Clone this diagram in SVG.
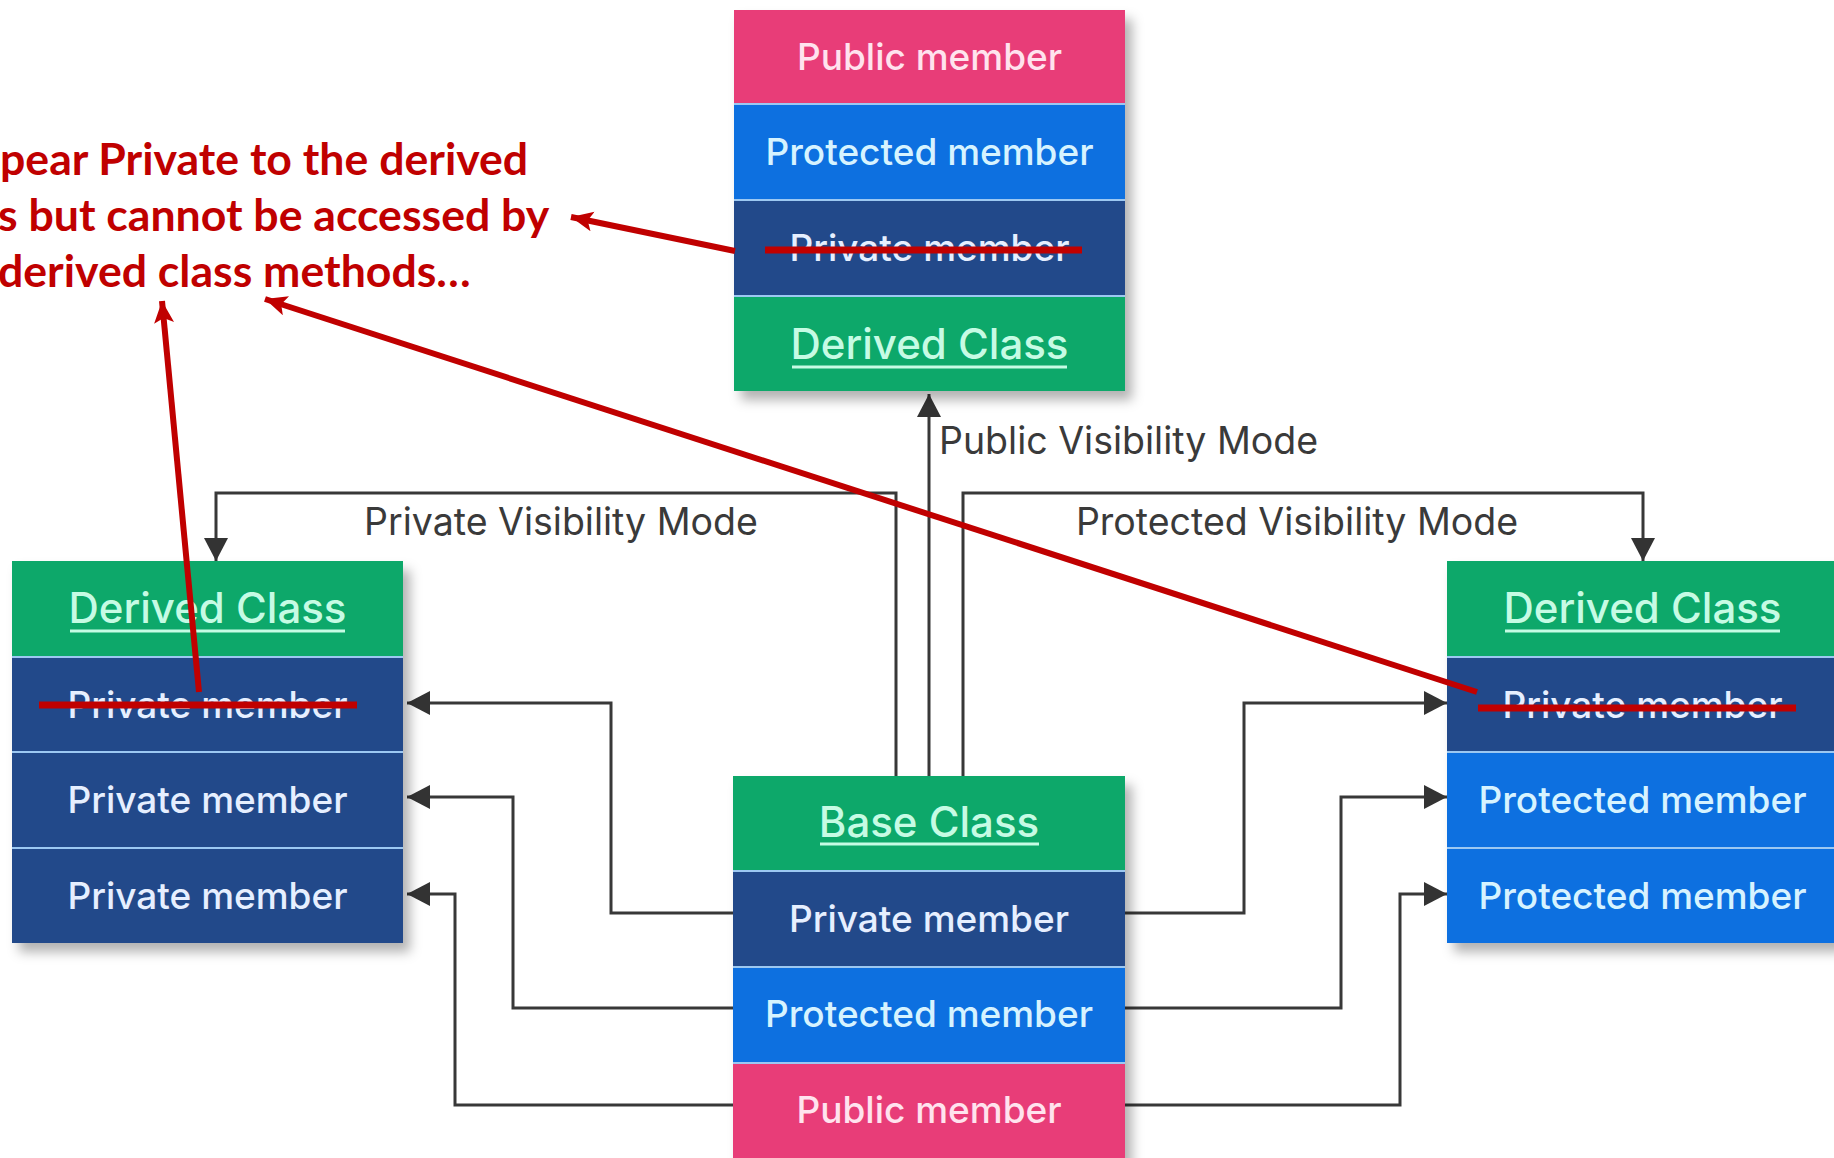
<svg xmlns="http://www.w3.org/2000/svg" width="1834" height="1158" viewBox="0 0 1834 1158">
  <defs>
    <filter id="shadow" x="-10%" y="-10%" width="125%" height="125%">
      <feDropShadow dx="7" dy="9" stdDeviation="6" flood-color="#000" flood-opacity="0.3"/>
    </filter>
    <marker id="head" markerUnits="userSpaceOnUse" markerWidth="24" markerHeight="26" refX="23" refY="12" orient="auto">
      <path d="M0,0 L23,12 L0,24 z" fill="#333"/>
    </marker>
    <marker id="redhead" markerUnits="userSpaceOnUse" markerWidth="24" markerHeight="22" refX="22" refY="10" orient="auto">
      <path d="M0,0 L22,10 L0,20 L5,10 z" fill="#c00000"/>
    </marker>
    <style>
      .green { fill: #0aa86b; }
      .navy { fill: #224a8a; }
      .blue { fill: #0b6fe0; }
      .pink { fill: #e83d78; }
      .sep { stroke: #9cc8f2; stroke-width: 2; }
      .txt { font-family: Inter, "Noto Sans", "DejaVu Sans", sans-serif; font-size: 37px; font-weight: 500; text-anchor: middle; }
      .title { font-size: 42px; }
      .t-green { fill: #c6fbe4; }
      .t-navy { fill: #e6efff; }
      .t-blue { fill: #d6f3ff; }
      .t-pink { fill: #ffe3ee; }
      .uline { stroke: #c6fbe4; stroke-width: 3; }
      .conn { fill: none; stroke: #383838; stroke-width: 3; }
      .mode { font-family: Inter, "Noto Sans", "DejaVu Sans", sans-serif; font-size: 37.5px; fill: #3a3a3a; }
      .strike { stroke: #c00000; stroke-width: 7; }
      .redline { stroke: #c00000; stroke-width: 6; fill: none; }
      .note { font-family: Lato, "Open Sans", "Liberation Sans", sans-serif; font-weight: bold; font-size: 44.6px; fill: #c00000; }
    </style>
  </defs>

  <rect width="1834" height="1158" fill="#ffffff"/>

  <!-- connectors between classes -->
  <g id="connectors">
    <path class="conn" d="M929 776 V394" marker-end="url(#head)"/>
    <path class="conn" d="M896 776 V493 H216 V561" marker-end="url(#head)"/>
    <path class="conn" d="M963 776 V493 H1643 V561" marker-end="url(#head)"/>
    <path class="conn" d="M733 913 H611 V703 H407" marker-end="url(#head)"/>
    <path class="conn" d="M733 1008 H513 V797 H407" marker-end="url(#head)"/>
    <path class="conn" d="M733 1105 H455 V894 H407" marker-end="url(#head)"/>
    <path class="conn" d="M1125 913 H1244 V703 H1447" marker-end="url(#head)"/>
    <path class="conn" d="M1125 1008 H1341 V797 H1447" marker-end="url(#head)"/>
    <path class="conn" d="M1125 1105 H1400 V894 H1447" marker-end="url(#head)"/>
    <text class="mode" x="939" y="454">Public Visibility Mode</text>
    <text class="mode" x="561" y="535" text-anchor="middle">Private Visibility Mode</text>
    <text class="mode" x="1297" y="535" text-anchor="middle">Protected Visibility Mode</text>
  </g>

  <!-- derived class, public inheritance -->
  <g id="derived-public">
    <g filter="url(#shadow)">
      <rect class="pink" x="734" y="10" width="391" height="95"/>
      <rect class="blue" x="734" y="105" width="391" height="95"/>
      <rect class="navy" x="734" y="200" width="391" height="95"/>
      <rect class="green" x="734" y="295" width="391" height="96"/>
    </g>
    <line class="sep" x1="734" y1="104" x2="1125" y2="104"/>
    <line class="sep" x1="734" y1="200" x2="1125" y2="200"/>
    <line class="sep" x1="734" y1="296" x2="1125" y2="296"/>
    <text class="txt t-pink" x="929.5" y="70">Public member</text>
    <text class="txt t-blue" x="929.5" y="165">Protected member</text>
    <text class="txt t-navy" x="929.5" y="261">Private member</text>
    <text class="txt title t-green" x="929.5" y="359">Derived Class</text>
    <line class="uline" x1="792" y1="367" x2="1067" y2="367"/>
  </g>

  <!-- derived class, private inheritance -->
  <g id="derived-private">
    <g filter="url(#shadow)">
      <rect class="green" x="12" y="561" width="391" height="96"/>
      <rect class="navy" x="12" y="657" width="391" height="286"/>
    </g>
    <line class="sep" x1="12" y1="657" x2="403" y2="657"/>
    <line class="sep" x1="12" y1="752" x2="403" y2="752"/>
    <line class="sep" x1="12" y1="848" x2="403" y2="848"/>
    <text class="txt title t-green" x="207.5" y="623">Derived Class</text>
    <line class="uline" x1="70" y1="631" x2="345" y2="631"/>
    <text class="txt t-navy" x="207.5" y="718">Private member</text>
    <text class="txt t-navy" x="207.5" y="813">Private member</text>
    <text class="txt t-navy" x="207.5" y="909">Private member</text>
  </g>

  <!-- derived class, protected inheritance -->
  <g id="derived-protected">
    <g filter="url(#shadow)">
      <rect class="green" x="1447" y="561" width="391" height="96"/>
      <rect class="navy" x="1447" y="657" width="391" height="95"/>
      <rect class="blue" x="1447" y="752" width="391" height="191"/>
    </g>
    <line class="sep" x1="1447" y1="657" x2="1838" y2="657"/>
    <line class="sep" x1="1447" y1="752" x2="1838" y2="752"/>
    <line class="sep" x1="1447" y1="848" x2="1838" y2="848"/>
    <text class="txt title t-green" x="1642.5" y="623">Derived Class</text>
    <line class="uline" x1="1505" y1="631" x2="1780" y2="631"/>
    <text class="txt t-navy" x="1642.5" y="718">Private member</text>
    <text class="txt t-blue" x="1642.5" y="813">Protected member</text>
    <text class="txt t-blue" x="1642.5" y="909">Protected member</text>
  </g>

  <!-- base class -->
  <g id="base-class">
    <g filter="url(#shadow)">
      <rect class="green" x="733" y="776" width="392" height="95"/>
      <rect class="navy" x="733" y="871" width="392" height="96"/>
      <rect class="blue" x="733" y="967" width="392" height="96"/>
      <rect class="pink" x="733" y="1063" width="392" height="100"/>
    </g>
    <line class="sep" x1="733" y1="871" x2="1125" y2="871"/>
    <line class="sep" x1="733" y1="967" x2="1125" y2="967"/>
    <line class="sep" x1="733" y1="1063" x2="1125" y2="1063"/>
    <text class="txt title t-green" x="929" y="837">Base Class</text>
    <line class="uline" x1="820" y1="844" x2="1039" y2="844"/>
    <text class="txt t-navy" x="929" y="932">Private member</text>
    <text class="txt t-blue" x="929" y="1027">Protected member</text>
    <text class="txt t-pink" x="929" y="1123">Public member</text>
  </g>

  <!-- red annotation -->
  <g id="annotation">
    <text class="note" x="0" y="175">pear Private to the derived</text>
    <text class="note" x="-2" y="231">s but cannot be accessed by</text>
    <text class="note" x="-2" y="287">derived class methods…</text>
    <line class="strike" x1="765" y1="250" x2="1082" y2="250"/>
    <line class="strike" x1="39" y1="705" x2="357" y2="705"/>
    <line class="strike" x1="1478" y1="708" x2="1796" y2="708"/>
    <line class="redline" x1="735" y1="251" x2="571" y2="217" marker-end="url(#redhead)"/>
    <line class="redline" x1="199" y1="692" x2="162" y2="301" marker-end="url(#redhead)"/>
    <line class="redline" x1="1477" y1="692" x2="265" y2="299" marker-end="url(#redhead)"/>
  </g>
</svg>
